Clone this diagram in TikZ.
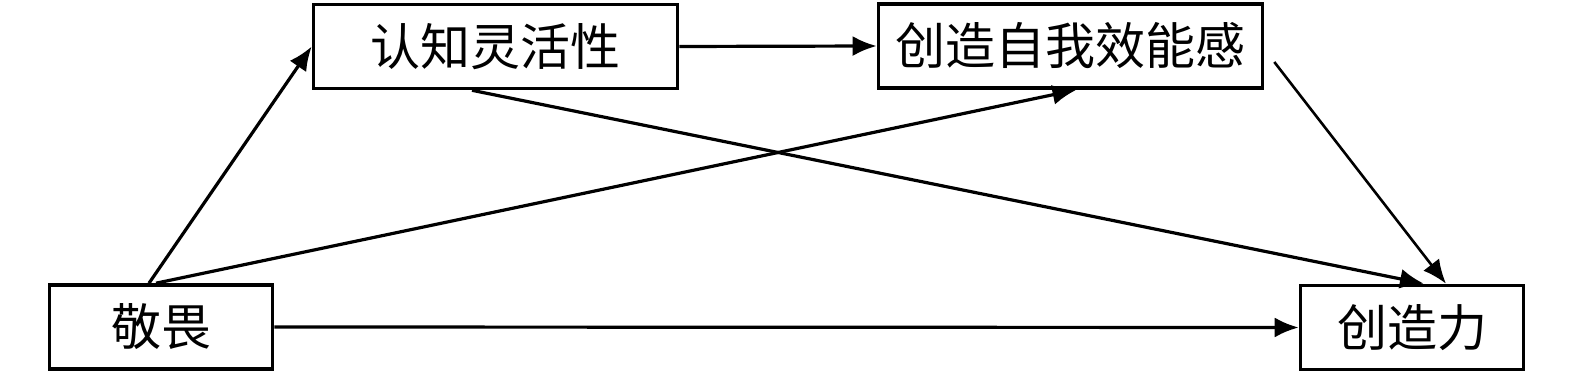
\documentclass[tikz,border=0pt]{standalone}
\usepackage{fontspec}
\newfontfamily\cjk{Noto Sans CJK SC}
\usetikzlibrary{arrows.meta}
\begin{document}
\begin{tikzpicture}[x=0.5pt,y=-0.5pt,
  box/.style={draw, line width=1.8pt, inner sep=0pt, minimum height=42pt, font=\cjk\fontsize{25}{30}\selectfont},
  arr/.style={line width=1.6pt, -{Latex[length=12pt,width=10pt]}}]
\useasboundingbox (0,0) rectangle (1575,373);
\node[box, minimum width=111.5pt] (A) at (161,327) {敬畏};
\node[box, minimum width=182pt] (C) at (495.5,46.5) {认知灵活性};
\node[box, minimum width=192pt] (S) at (1070.5,46) {创造自我效能感};
\node[box, minimum width=111.5pt] (K) at (1412,327.5) {创造力};
\coordinate (sk) at ([xshift=5pt,yshift=-8pt]S.east);
\draw[arr] ([xshift=-6pt]A.north) -- (C.west);
\draw[arr] ([xshift=-2.5pt]A.north) -- ([xshift=3pt]S.south);
\draw[arr] (C.east) -- (S.west);
\draw[arr] ([xshift=-11.75pt]C.south) -- ([xshift=6pt]K.north);
\draw[arr, line width=1.3pt] (sk) -- ([xshift=17pt]K.north);
\draw[arr] (A.east) -- (K.west);
\end{tikzpicture}
\end{document}
